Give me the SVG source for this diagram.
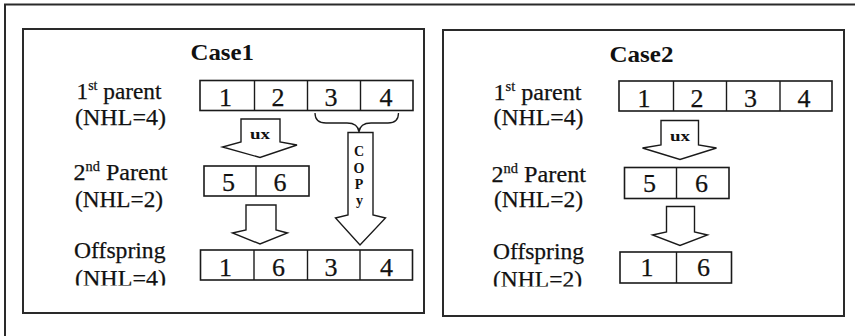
<svg xmlns="http://www.w3.org/2000/svg" width="855" height="336" viewBox="0 0 855 336">
  <style>
    .frame { fill: none; stroke: #2a2a2a; stroke-width: 2; }
    .cell { fill: #fff; stroke: #1a1a1a; stroke-width: 1.6; }
    .div { stroke: #1a1a1a; stroke-width: 1.4; }
    .arrow { fill: #fff; stroke: #1a1a1a; stroke-width: 1.4; stroke-linejoin: miter; }
    .brace { fill: none; stroke: #1a1a1a; stroke-width: 1.3; }
    text { font-family: "Liberation Serif", "Times New Roman", serif; fill: #111; }
    .lbl { font-size: 23.5px; stroke: #111; stroke-width: 0.25; }
    .sup { font-size: 14px; }
    .title { font-size: 23px; font-weight: bold; }
    .num { font-size: 26px; text-anchor: middle; stroke: #111; stroke-width: 0.25; }
    .tag { font-size: 14px; font-weight: bold; text-anchor: middle; }
  </style>
  <defs>
    <clipPath id="clip1"><rect x="0" y="0" width="430" height="285.5"/></clipPath>
    <clipPath id="clip2"><rect x="430" y="0" width="425" height="286.5"/></clipPath>
  </defs>

  <rect width="855" height="336" fill="#fff"/>
  <!-- outer frame (extends past the canvas on the right and bottom) -->
  <rect class="frame" x="5" y="4.5" width="900" height="400"/>

  <!-- ===== Case 1 ===== -->
  <g id="case1">
    <rect class="frame" x="23" y="29" width="401" height="284"/>
    <text class="title" x="190.5" y="60" textLength="63.5" lengthAdjust="spacingAndGlyphs">Case1</text>

    <g id="case1-labels">
      <text class="lbl" x="76.5" y="99" textLength="85" lengthAdjust="spacingAndGlyphs">1<tspan class="sup" dy="-9">st</tspan><tspan dy="9"> parent</tspan></text>
      <text class="lbl" x="75" y="125" textLength="91" lengthAdjust="spacingAndGlyphs">(NHL=4)</text>
      <text class="lbl" x="73.5" y="180" textLength="94" lengthAdjust="spacingAndGlyphs">2<tspan class="sup" dy="-9">nd</tspan><tspan dy="9"> Parent</tspan></text>
      <text class="lbl" x="75" y="207" textLength="88" lengthAdjust="spacingAndGlyphs">(NHL=2)</text>
      <text class="lbl" x="74" y="258" textLength="91.5" lengthAdjust="spacingAndGlyphs">Offspring</text>
      <text class="lbl" x="75" y="285.5" textLength="91" lengthAdjust="spacingAndGlyphs" clip-path="url(#clip1)">(NHL=4)</text>
    </g>

    <g id="case1-parent1">
      <rect class="cell" x="200" y="80.5" width="213" height="30"/>
      <line class="div" x1="254.5" y1="80.5" x2="254.5" y2="110.5"/>
      <line class="div" x1="307.5" y1="80.5" x2="307.5" y2="110.5"/>
      <line class="div" x1="360.5" y1="80.5" x2="360.5" y2="110.5"/>
      <text class="num" x="225.5" y="106">1</text>
      <text class="num" x="278" y="106">2</text>
      <text class="num" x="331" y="106">3</text>
      <text class="num" x="386" y="106">4</text>
    </g>

    <g id="case1-parent2">
      <rect class="cell" x="204" y="166" width="105" height="30"/>
      <line class="div" x1="256" y1="166" x2="256" y2="196"/>
      <text class="num" x="228.5" y="191">5</text>
      <text class="num" x="280" y="191">6</text>
    </g>

    <g id="case1-offspring">
      <rect class="cell" x="200.5" y="250" width="212" height="30"/>
      <line class="div" x1="254" y1="250" x2="254" y2="280"/>
      <line class="div" x1="307.5" y1="250" x2="307.5" y2="280"/>
      <line class="div" x1="360" y1="250" x2="360" y2="280"/>
      <text class="num" x="225.5" y="276">1</text>
      <text class="num" x="278.5" y="276">6</text>
      <text class="num" x="331" y="276">3</text>
      <text class="num" x="386.5" y="276">4</text>
    </g>
  </g>

  <!-- ===== Case 2 ===== -->
  <g id="case2">
    <rect class="frame" x="443" y="30" width="401" height="286"/>
    <text class="title" x="609.5" y="61.5" textLength="64" lengthAdjust="spacingAndGlyphs">Case2</text>

    <g id="case2-labels">
      <text class="lbl" x="493.5" y="100" textLength="88" lengthAdjust="spacingAndGlyphs">1<tspan class="sup" dy="-9">st</tspan><tspan dy="9"> parent</tspan></text>
      <text class="lbl" x="493.5" y="124.5" textLength="90" lengthAdjust="spacingAndGlyphs">(NHL=4)</text>
      <text class="lbl" x="491.5" y="181.5" textLength="94.5" lengthAdjust="spacingAndGlyphs">2<tspan class="sup" dy="-9">nd</tspan><tspan dy="9"> Parent</tspan></text>
      <text class="lbl" x="494" y="206.5" textLength="89" lengthAdjust="spacingAndGlyphs">(NHL=2)</text>
      <text class="lbl" x="493" y="259" textLength="91" lengthAdjust="spacingAndGlyphs">Offspring</text>
      <text class="lbl" x="493" y="286.5" textLength="89" lengthAdjust="spacingAndGlyphs" clip-path="url(#clip2)">(NHL=2)</text>
    </g>

    <g id="case2-parent1">
      <rect class="cell" x="619" y="81" width="213" height="30"/>
      <line class="div" x1="673.5" y1="81" x2="673.5" y2="111"/>
      <line class="div" x1="726.5" y1="81" x2="726.5" y2="111"/>
      <line class="div" x1="780" y1="81" x2="780" y2="111"/>
      <text class="num" x="644" y="106.5">1</text>
      <text class="num" x="697" y="106.5">2</text>
      <text class="num" x="750.5" y="106.5">3</text>
      <text class="num" x="804" y="106.5">4</text>
    </g>

    <g id="case2-parent2">
      <rect class="cell" x="624.5" y="167.5" width="104.5" height="31"/>
      <line class="div" x1="676.5" y1="167.5" x2="676.5" y2="198.5"/>
      <text class="num" x="649.5" y="192">5</text>
      <text class="num" x="701.5" y="192">6</text>
    </g>

    <g id="case2-offspring">
      <rect class="cell" x="620" y="252" width="111.5" height="31"/>
      <line class="div" x1="676.5" y1="252" x2="676.5" y2="283"/>
      <text class="num" x="647" y="276">1</text>
      <text class="num" x="703.5" y="276">6</text>
    </g>
  </g>

  <!-- ===== block arrows and brace ===== -->
  <g id="connectors">
    <!-- case 1: parent1 -> parent2 (ux) -->
    <path class="arrow" d="M241,119 H280 V142 L297,145 L260,157.5 L222.5,147 L241,142 Z"/>
    <text class="tag" x="260" y="139" textLength="20" lengthAdjust="spacingAndGlyphs">ux</text>
    <!-- case 1: parent2 -> offspring -->
    <path class="arrow" d="M246,205 H276 V230 L287.5,233 L260,244 L232.5,233 L246,230 Z"/>
    <!-- case 1: copy of genes 3,4 -->
    <path class="brace" d="M315,113 Q315,123 326,123 H347 Q358,123 359,132 Q360,123 371,123 H388 Q398.5,123 398.5,113"/>
    <path class="arrow" d="M348,132.5 H373 V215 L385.5,218 L360,245 L335.5,218 L348,215 Z"/>
    <text class="tag" x="359" y="156">C</text>
    <text class="tag" x="359" y="172.5">O</text>
    <text class="tag" x="359" y="189">P</text>
    <text class="tag" x="359.5" y="205">y</text>

    <!-- case 2: parent1 -> parent2 (ux) -->
    <path class="arrow" d="M661,120.5 H698.5 V145 L716.5,148 L680,159.5 L642.5,148 L661,145 Z"/>
    <text class="tag" x="680" y="141" textLength="20" lengthAdjust="spacingAndGlyphs">ux</text>
    <!-- case 2: parent2 -> offspring -->
    <path class="arrow" d="M666.5,206.5 H694.5 V232 L707.5,235 L680,245.5 L652.5,235 L666.5,232 Z"/>
  </g>
</svg>
